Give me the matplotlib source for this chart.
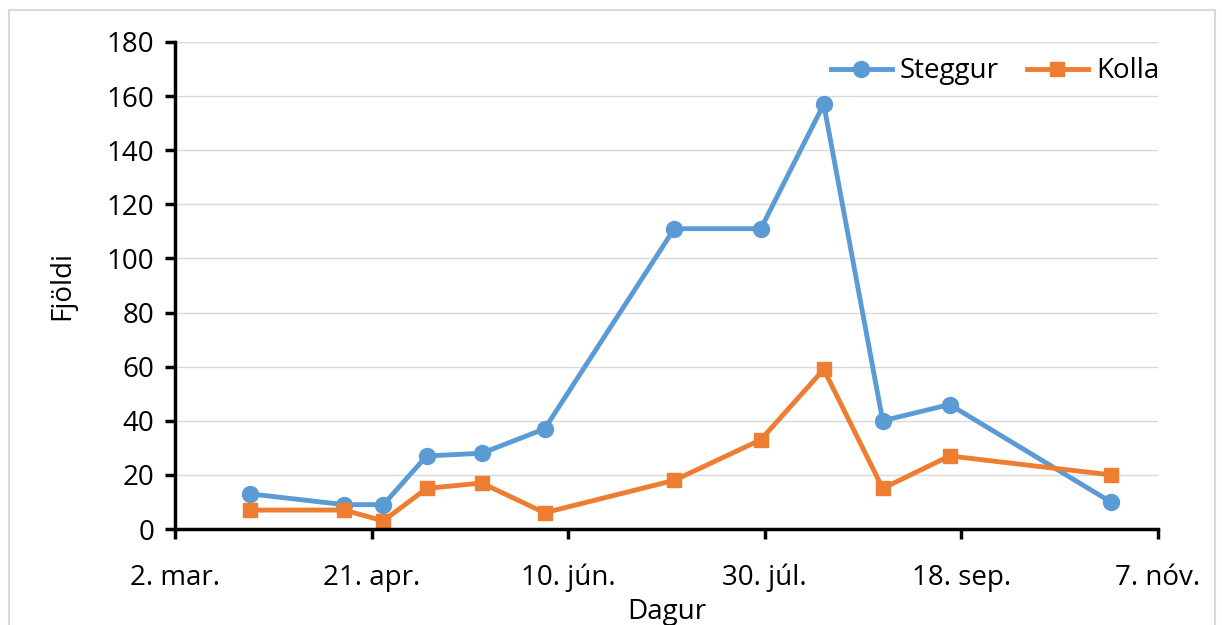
import matplotlib
matplotlib.use('Agg')
import matplotlib.pyplot as plt
from matplotlib.patches import Rectangle
import numpy as np

plt.rcParams['font.family'] = ['Open Sans', 'DejaVu Sans']

# dagsetningar talninga
dates = np.array(['2015-03-21', '2015-04-14', '2015-04-24', '2015-05-05',
                  '2015-05-19', '2015-06-04', '2015-07-07', '2015-07-29',
                  '2015-08-14', '2015-08-29', '2015-09-15', '2015-10-26'],
                 dtype='datetime64[D]')
steggur = [13, 9, 9, 27, 28, 37, 111, 111, 157, 40, 46, 10]
kolla = [7, 7, 3, 15, 17, 6, 18, 33, 59, 15, 27, 20]

tick_dates = np.array(['2015-03-02', '2015-04-21', '2015-06-10',
                       '2015-07-30', '2015-09-18', '2015-11-07'],
                      dtype='datetime64[D]')
tick_labels = ['2. mar.', '21. apr.', '10. jún.', '30. júl.', '18. sep.', '7. nóv.']
yticks = list(range(0, 181, 20))

fig = plt.figure(figsize=(12.22, 6.25), dpi=100)
ax = fig.add_axes([0.1432, 0.1536, 0.8044, 0.7792])

fig.patches.append(Rectangle((9 / 1222, -0.05), 1206 / 1222, 1.05 - 10 / 625,
                             transform=fig.transFigure, fill=False,
                             edgecolor='#d9d9d9', linewidth=1.5))

x = dates.astype('datetime64[ms]').astype(object)
ax.plot(x, steggur, color='#5B9BD5', lw=3.5, marker='o', ms=11.5, label='Steggur')
ax.plot(x, kolla, color='#ED7D31', lw=3.5, marker='s', ms=10.5, label='Kolla')

tx = tick_dates.astype('datetime64[ms]').astype(object)
ax.set_xlim(tx[0], tx[-1])
ax.set_xticks(tx)
ax.set_xticklabels(tick_labels)
ax.set_ylim(0, 180)
ax.set_yticks(yticks)

ax.grid(axis='y', color='#d9d9d9', lw=1)
ax.set_axisbelow(True)
for s in ['top', 'right']:
    ax.spines[s].set_visible(False)
for s in ['left', 'bottom']:
    ax.spines[s].set_linewidth(2.5)
ax.tick_params(axis='both', width=2.5, length=7, labelsize=20, pad=8)
ax.tick_params(axis='x', pad=18)

ax.set_xlabel('Dagur', fontsize=20, labelpad=4)
ax.set_ylabel('Fjöldi', fontsize=20, labelpad=22)

ax.legend(loc='upper right', ncol=2, frameon=False, fontsize=20,
          bbox_to_anchor=(1.027, 1.02), handlelength=2.2, columnspacing=1.0,
          handletextpad=0.3)

fig.savefig('out.png', dpi=100)
